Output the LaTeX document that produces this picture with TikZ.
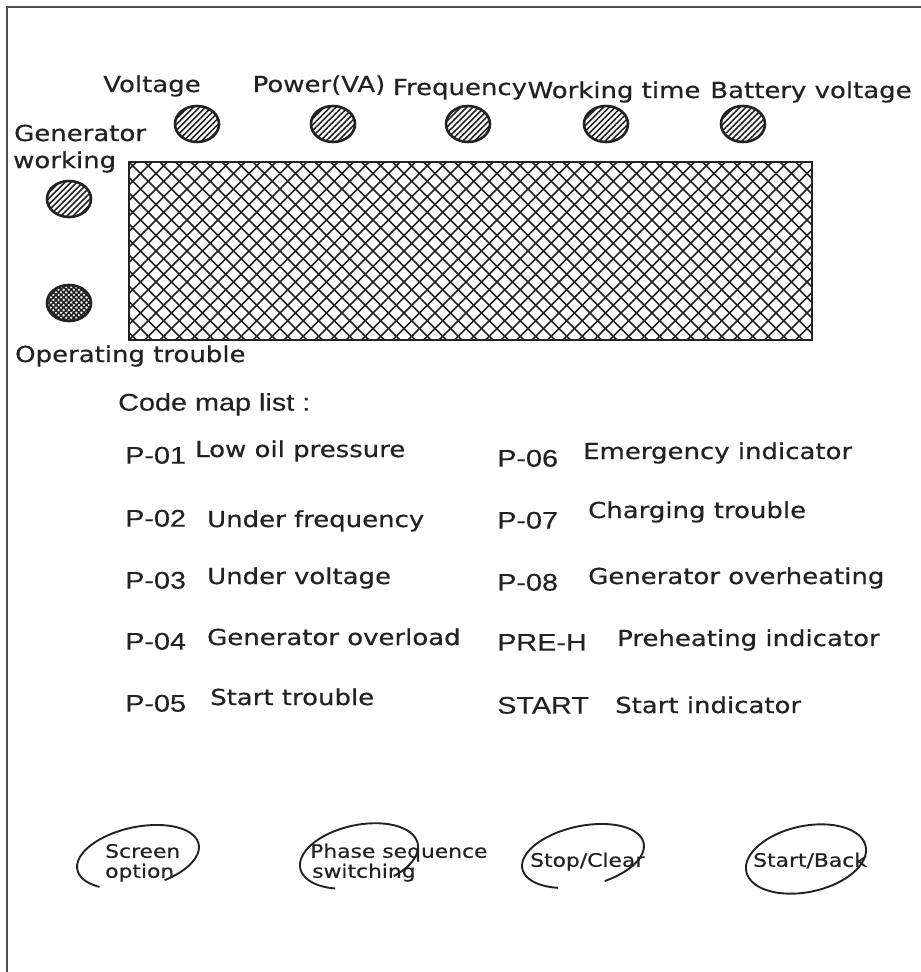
\documentclass[tikz,border=0pt]{standalone}
\usepackage{fontspec}
\usetikzlibrary{patterns.meta,shapes.geometric}
\newfontfamily\labfont[FakeStretch=1.18,FakeBold=0.5]{DejaVu Sans}
\newfontfamily\codfont[FakeStretch=1.2,FakeBold=0.3]{Liberation Sans}
\definecolor{ink}{HTML}{222222}
\begin{document}
\begin{tikzpicture}[x=1pt,y=1pt,
  base/.style={inner sep=0pt, text depth=0pt, text=ink},
  lab/.style={base, text height=16pt, font=\labfont\fontsize{22}{26}\selectfont},
  cod/.style={base, text height=17.2pt, font=\codfont\fontsize{24}{28}\selectfont},
  btn/.style={base, text height=13.5pt, font=\labfont\fontsize{18.5}{22}\selectfont},
  lamp/.style={ellipse, draw=ink, line width=2.6pt, minimum width=44pt, minimum height=36pt, inner sep=0pt,
    pattern={Lines[angle=45,distance=4.2pt,line width=1.6pt]}, pattern color=ink},
  lampx/.style={lamp, preaction={pattern={Lines[angle=-45,distance=3.6pt,line width=1.6pt]}, pattern color=ink},
    pattern={Lines[angle=45,distance=3.6pt,line width=1.6pt]}},
  btnline/.style={draw=ink, line width=1.9pt},
  hatch/.style={draw=ink, line width=1.6pt}]
\useasboundingbox (0,0) rectangle (921,-972);
% frame
\draw[line width=2pt, draw=ink!80] (7,-972) -- (7,-7) -- (921,-7);

% top labels
\node[lab] (lv) at (152,-84) {Voltage};
\node[lab] (lp) at (319,-84) {Power(VA)};
\node[lab] (lf) at (460,-87) {Frequency};
\node[lab] (lw) at (614,-90) {Working time};
\node[lab] (lb) at (811,-90) {Battery voltage};

% top lamps
\node[lamp] (cv) at (197,-124) {};
\node[lamp] (cp) at (333,-124) {};
\node[lamp] (cf) at (468,-124) {};
\node[lamp] (cw) at (606,-124) {};
\node[lamp] (cb) at (743,-124) {};

% left lamps and labels
\node[lab, anchor=west] (lg1) at (14,-133) {Generator};
\node[lab, anchor=west] (lg2) at (13,-160) {working};
\node[lamp] (cg) at (69,-199) {};
\node[lampx] (co) at (69,-303) {};
\node[lab, anchor=west] (lo) at (15,-354) {Operating trouble};

% display
\begin{scope}
  \clip (129,-162) rectangle (812,-340);
  \foreach \i in {-12,...,45} {
    \draw[hatch] ({129+\i*15.5},-162) -- ++(178,-178);
    \draw[hatch] ({129+\i*15.5},-340) -- ++(178,178);
  }
\end{scope}
\draw[draw=ink, line width=2.6pt] (129,-162) rectangle (812,-340);

% code map list
\node[cod, anchor=west] (title) at (118,-402) {Code map list :};

\node[cod, anchor=west] (c1) at (125,-455) {P-01};
\node[cod, anchor=west] (c2) at (125,-518) {P-02};
\node[cod, anchor=west] (c3) at (125,-580) {P-03};
\node[cod, anchor=west] (c4) at (125,-641) {P-04};
\node[cod, anchor=west] (c5) at (125,-703) {P-05};
\node[lab, anchor=west] (d1) at (195,-449) {Low oil pressure};
\node[lab, anchor=west] (d2) at (207,-519) {Under frequency};
\node[lab, anchor=west] (d3) at (207,-576) {Under voltage};
\node[lab, anchor=west] (d4) at (207,-637) {Generator overload};
\node[lab, anchor=west] (d5) at (210,-697) {Start trouble};

\node[cod, anchor=west] (c6) at (497,-458) {P-06};
\node[cod, anchor=west] (c7) at (497,-520) {P-07};
\node[cod, anchor=west] (c8) at (497,-582) {P-08};
\node[cod, anchor=west] (c9) at (497,-642) {PRE-H};
\node[cod, anchor=west] (c10) at (497,-705) {START};
\node[lab, anchor=west] (d6) at (583,-451) {Emergency indicator};
\node[lab, anchor=west] (d7) at (588,-510) {Charging trouble};
\node[lab, anchor=west] (d8) at (588,-576) {Generator overheating};
\node[lab, anchor=west] (d9) at (617,-638) {Preheating indicator};
\node[lab, anchor=west] (d10) at (615,-705) {Start indicator};

% buttons
\coordinate (b1) at (138,-857);
\coordinate (b2) at (359,-856);
\coordinate (b3) at (583,-856);
\coordinate (b4) at (806,-859);
\begin{scope}[rotate around={12:(b1)}]
  \draw[btnline] (b1) ++(290:62 and 30) arc[start angle=290, end angle=585, x radius=62, y radius=30];
\end{scope}
\begin{scope}[rotate around={12:(b2)}]
  \draw[btnline] (b2) ++(300:60 and 31) arc[start angle=300, end angle=600, x radius=60, y radius=31];
\end{scope}
\begin{scope}[rotate around={12:(b3)}]
  \draw[btnline] (b3) ++(285:62 and 30) arc[start angle=285, end angle=600, x radius=62, y radius=30];
\end{scope}
\begin{scope}[rotate around={12:(b4)}]
  \draw[btnline] (b4) ellipse[x radius=61, y radius=33];
\end{scope}
\node[btn, anchor=west] (t1a) at (105,-851) {Screen};
\node[btn, anchor=west] (t1b) at (105,-871) {option};
\node[btn, anchor=west] (t2a) at (310,-851) {Phase sequence};
\node[btn, anchor=west] (t2b) at (312,-871) {switching};
\node[btn, anchor=west] (t3) at (530,-860) {Stop/Clear};
\node[btn, anchor=west] (t4) at (753,-860) {Start/Back};
\end{tikzpicture}
\end{document}
